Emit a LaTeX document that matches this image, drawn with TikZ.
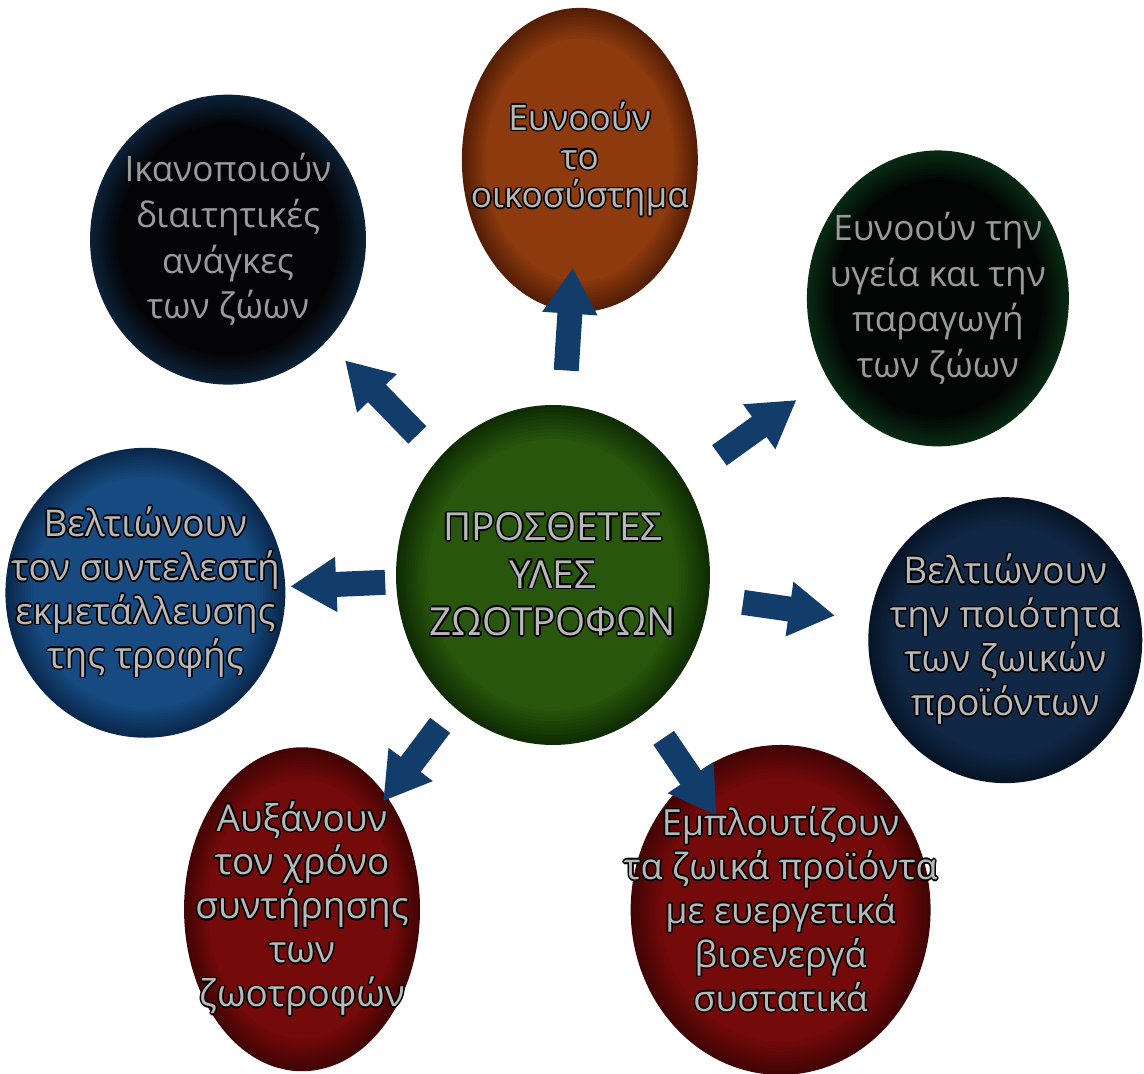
\documentclass[tikz,border=0pt]{standalone}
\usepackage{fontspec}
\setmainfont{Open Sans}
\usepackage{contour}
\usetikzlibrary{shapes.geometric,arrows.meta,calc}

\contourlength{0.9pt}
\contournumber{8}
\newcommand\rim[1]{\contour{black}{#1}}

\definecolor{wordgrey}{HTML}{B8B8B8}
\definecolor{dimgrey}{HTML}{9A9A9A}
\definecolor{flowblue}{HTML}{123C6A}

\definecolor{hubin}{RGB}{40,86,12}    \definecolor{hubout}{RGB}{16,44,4}
\definecolor{ecoin}{RGB}{140,58,14}   \definecolor{ecoout}{RGB}{84,30,6}
\definecolor{feedin}{RGB}{4,4,6}      \definecolor{feedout}{RGB}{12,32,54}
\definecolor{healthin}{RGB}{3,5,4}    \definecolor{healthout}{RGB}{8,42,18}
\definecolor{ratioin}{RGB}{22,74,128} \definecolor{ratioout}{RGB}{10,40,76}
\definecolor{qualin}{RGB}{16,40,70}   \definecolor{qualout}{RGB}{7,20,38}
\definecolor{redin}{RGB}{116,10,10}   \definecolor{redout}{RGB}{66,4,4}

\begin{document}
\begin{tikzpicture}[x=0.02cm, y=0.02cm,
	% rings from dark rim to flat centre
	disc/.style n args={4}{ellipse, inner sep=0pt, minimum width=#1, minimum height=#2, fill=#4,
		path picture={
			\foreach \k in {1,...,10}
				\fill[#3!\k0!#4] (path picture bounding box.center)
					ellipse [x radius={#1*(0.5-0.01*\k)}, y radius={#2*(0.5-0.01*\k)}];
		}},
	words/.style={align=center, text=wordgrey, font=\fontsize{21}{25}\selectfont},
	plain/.style={align=center, text=dimgrey, font=\fontsize{20}{26}\selectfont},
	flow/.style={flowblue, line width=0.5cm, -{Triangle[width=1.04cm, length=0.92cm]}}]
	
	\useasboundingbox (-553,-499) rectangle (591,575);
	
	\node[disc={6.28cm}{6.8cm}{hubin}{hubout}] (hub) at (0:0) {};
	\node[disc={4.72cm}{6.08cm}{ecoin}{ecoout}] (eco) at (86.3:416) {};
	\node[disc={5.52cm}{5.8cm}{feedin}{feedout}] (feed) at (134.1:467) {};
	\node[disc={5.24cm}{5.92cm}{healthin}{healthout}] (health) at (35.7:474) {};
	\node[disc={5.6cm}{5.8cm}{ratioin}{ratioout}] (ratio) at (182.5:408) {};
	\node[disc={5.48cm}{5.72cm}{qualin}{qualout}] (quality) at (-8.2:457) {};
	\node[disc={4.72cm}{6.48cm}{redin}{redout}] (shelf) at (233.1:418) {};
	\node[disc={6.0cm}{6.6cm}{redin}{redout}] (enrich) at (-55.8:405) {};
	
	\foreach \d/\a/\b in {eco/4.1cm/6.16cm, feed/3.9cm/5.98cm, health/4.1cm/6.0cm,
			ratio/3.36cm/5.26cm, quality/3.84cm/5.7cm, shelf/3.76cm/5.66cm, enrich/3.94cm/5.82cm}
		\draw[flow] ($(hub)!\a!(\d)$) -- ($(hub)!\b!(\d)$);
	
	\node[words, font=\fontsize{22}{27}\selectfont] (hub-t) at (hub)
		{\rim{ΠΡΟΣΘΕΤΕΣ}\\\rim{ΥΛΕΣ}\\\rim{ΖΩΟΤΡΟΦΩΝ}};
	\node[words, font=\fontsize{20}{22}\selectfont] (eco-t) at (eco)
		{\rim{Ευνοούν}\\\rim{το}\\\rim{οικοσύστημα}};
	\node[plain] (feed-t) at (feed)
		{Ικανοποιούν\\διαιτητικές\\ανάγκες\\των ζώων};
	\node[plain] (health-t) at (health)
		{Ευνοούν την\\υγεία και την\\παραγωγή\\των ζώων};
	\node[words] (ratio-t) at (ratio)
		{\rim{Βελτιώνουν}\\\rim{τον συντελεστή}\\\rim{εκμετάλλευσης}\\\rim{της τροφής}};
	\node[words] (quality-t) at (quality)
		{\rim{Βελτιώνουν}\\\rim{την ποιότητα}\\\rim{των ζωικών}\\\rim{προϊόντων}};
	\node[words] (shelf-t) at (shelf)
		{\rim{Αυξάνουν}\\\rim{τον χρόνο}\\\rim{συντήρησης}\\\rim{των}\\\rim{ζωοτροφών}};
	\node[words, font=\fontsize{20.5}{25}\selectfont] (enrich-t) at (enrich)
		{\rim{Εμπλουτίζουν}\\\rim{τα ζωικά προϊόντα}\\\rim{με ευεργετικά}\\\rim{βιοενεργά}\\\rim{συστατικά}};
	
\end{tikzpicture}
\end{document}
